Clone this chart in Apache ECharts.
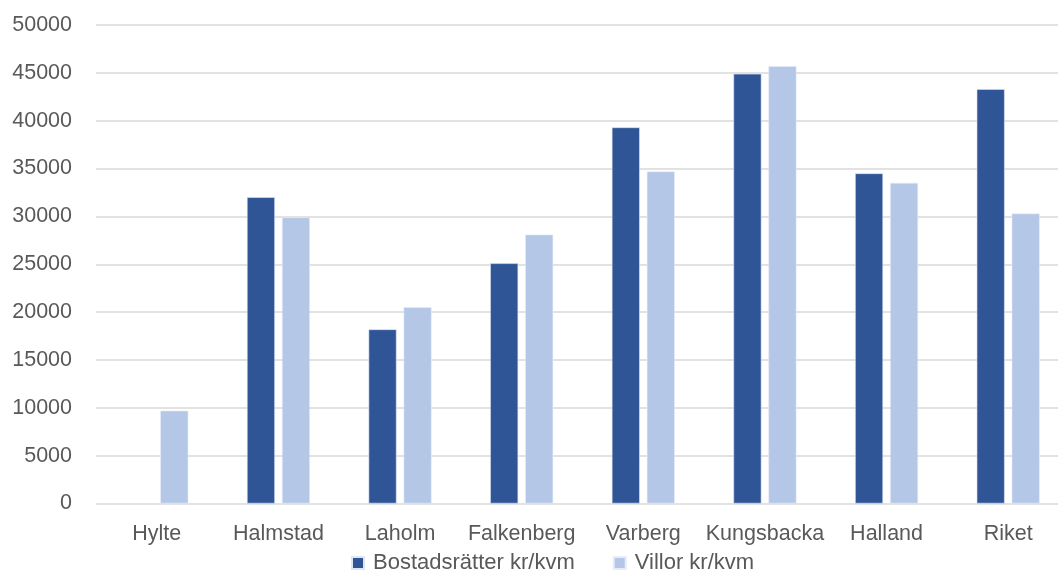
<!DOCTYPE html>
<html>
<head>
<meta charset="utf-8">
<script src="https://cdn.jsdelivr.net/npm/echarts@6/dist/echarts.min.js"></script>
<style>
  html, body { margin: 0; padding: 0; background: #fff; }
  #chart { width: 1058px; height: 571px; }
</style>
</head>
<body>
<div id="chart"></div>
<script>
// Price per square metre by municipality
const categories = ['Hylte', 'Halmstad', 'Laholm', 'Falkenberg', 'Varberg', 'Kungsbacka', 'Halland', 'Riket'];
const bostadsratter = [null, 32000, 18200, 25100, 39300, 44900, 34500, 43300];
const villor = [9700, 29900, 20500, 28100, 34700, 45700, 33500, 30300];
const seriesNames = ['Bostadsrätter kr/kvm', 'Villor kr/kvm'];

const FONT = 'Liberation Sans';
const TEXT = '#595959';

const chart = echarts.init(document.getElementById('chart'), null, { renderer: 'canvas' });
chart.setOption({
  animation: false,
  textStyle: { fontFamily: FONT },
  grid: { left: 96, width: 973, top: 25, height: 478.5, containLabel: false, outerBoundsMode: 'none' },
  legend: {
    data: seriesNames,
    top: 547,
    left: 346,
    itemWidth: 12,
    itemHeight: 12,
    itemGap: 38,
    icon: 'rect',
    textStyle: { fontFamily: FONT, fontSize: 22, color: TEXT, padding: [0, 0, 0, 4] }
  },
  xAxis: {
    type: 'category',
    data: categories,
    axisLine: { show: false },
    axisTick: { show: false },
    axisLabel: { interval: 0, fontFamily: FONT, fontSize: 21.5, color: TEXT, margin: 20 }
  },
  yAxis: {
    type: 'value',
    min: 0,
    max: 50000,
    interval: 5000,
    axisLine: { show: false },
    axisTick: { show: false },
    axisLabel: { fontFamily: FONT, fontSize: 21.5, color: TEXT, margin: 24, formatter: v => String(v) },
    splitLine: { lineStyle: { color: '#d9d9d9', width: 1.5 } }
  },
  series: [
    {
      name: seriesNames[0],
      type: 'bar',
      data: bostadsratter,
      barWidth: 28,
      barGap: '25%',
      itemStyle: { color: '#2f5597', borderColor: '#dfe6f3', borderWidth: 0.6 }
    },
    {
      name: seriesNames[1],
      type: 'bar',
      data: villor,
      barWidth: 28,
      itemStyle: { color: '#b4c7e7', borderColor: '#e6edf8', borderWidth: 0.6 }
    }
  ]
});
</script>
</body>
</html>
